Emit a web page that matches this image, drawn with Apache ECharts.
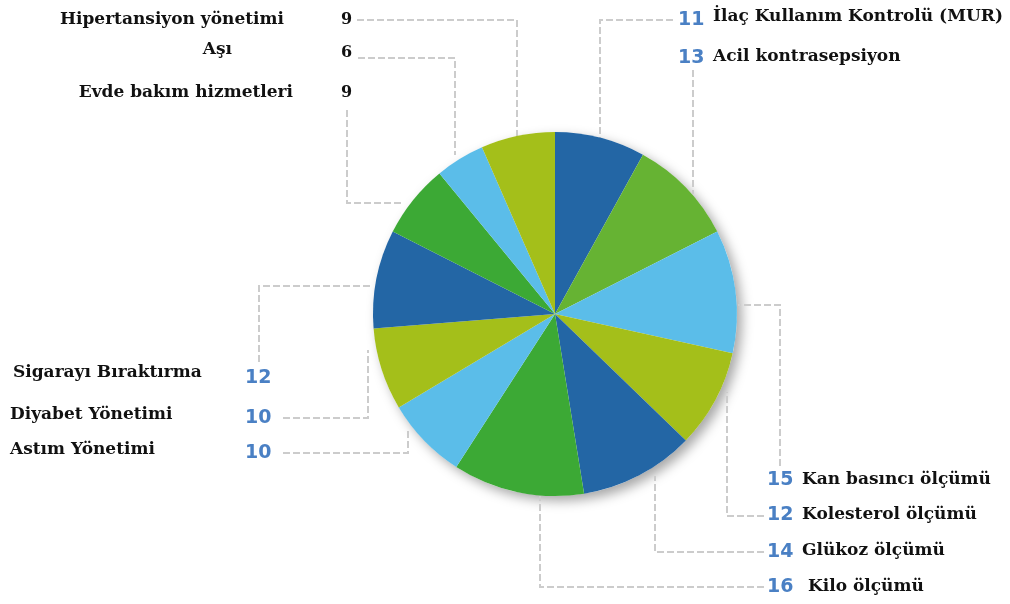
<!DOCTYPE html>
<html><head><meta charset="utf-8">
<script src="https://cdn.jsdelivr.net/npm/echarts@6/dist/echarts.min.js"></script>
<style>html,body{margin:0;padding:0;background:#fff}#c{width:1010px;height:604px}</style>
</head><body><div id="c"></div>
<script>
const categories = ["İlaç Kullanım Kontrolü (MUR)", "Acil kontrasepsiyon", "Kan basıncı ölçümü", "Kolesterol ölçümü", "Glükoz ölçümü", "Kilo ölçümü", "Astım Yönetimi", "Diyabet Yönetimi", "Sigarayı Bıraktırma", "Evde bakım hizmetleri", "Aşı", "Hipertansiyon yönetimi"];
const values = [11, 13, 15, 12, 14, 16, 10, 10, 12, 9, 6, 9];
const colors = ["#2366a5", "#66b333", "#5bbde9", "#a4bf1a", "#2366a5", "#3ca935", "#5bbde9", "#a4bf1a", "#2366a5", "#3ca935", "#5bbde9", "#a4bf1a"];

// label layout (positions only)
const nameLayout = [
  {x:713,y:17,align:'left'},{x:713,y:57,align:'left'},{x:802,y:480,align:'left'},{x:802,y:515,align:'left'},
  {x:802,y:551,align:'left'},{x:808,y:587,align:'left'},{x:10,y:450,align:'left'},{x:10,y:415,align:'left'},
  {x:13,y:373,align:'left'},{x:293,y:93,align:'right'},{x:232,y:50,align:'right'},{x:284,y:20,align:'right'}
];
const valueLayout = [
  {x:678,y:20,pts:[[673,20],[600,20],[600,140]]},
  {x:678,y:58,pts:[[693,70],[693,70],[693,194]]},
  {x:767,y:480,pts:[[780,466],[780,305],[738,305]]},
  {x:767,y:515,pts:[[764,516],[727,516],[727,392]]},
  {x:767,y:552,pts:[[764,552],[655,552],[655,476]]},
  {x:767,y:587,pts:[[764,587],[540,587],[540,496]]},
  {x:245,y:453,pts:[[283,453],[408,453],[408,430]]},
  {x:245,y:418,pts:[[283,418],[368,418],[368,350]]},
  {x:245,y:378,pts:[[259,362],[259,286],[372,286]]},
  {x:341,y:93,pts:[[347,110],[347,203],[402,203]]},
  {x:341,y:53,pts:[[358,58],[455,58],[455,155]]},
  {x:341,y:20,pts:[[357,20],[517,20],[517,140]]}
];

const CENTER = [555, 314], R = 182;
const data = categories.map((c, i) => ({name: c, value: values[i], itemStyle: {color: colors[i]}}));

const chart = echarts.init(document.getElementById('c'), null, {renderer: 'canvas'});
chart.setOption({
  animation: false,
  backgroundColor: '#ffffff',
  series: [
    { // shadow disc
      type: 'pie', center: CENTER, radius: R, silent: true, z: 1,
      data: [{value: 1, itemStyle: {color: '#ffffff', shadowBlur: 12, shadowOffsetX: 5, shadowOffsetY: 5, shadowColor: 'rgba(0,0,0,0.35)'}}],
      label: {show: false}, labelLine: {show: false}
    },
    { // value labels with leader lines
      type: 'pie', center: CENTER, radius: R, startAngle: 90, clockwise: true, z: 2, silent: true,
      avoidLabelOverlap: false,
      data: data.map(d => ({name: d.name, value: d.value, itemStyle: {color: 'rgba(0,0,0,0)'}})),
      label: {
        show: true, position: 'outside',
        formatter: p => (p.dataIndex >= 9 ? '{k|' : '{b|') + p.value + '}',
        rich: {
          b: {fontFamily: 'DejaVu Sans', fontWeight: 'bold', fontSize: 19, color: '#4a80c4'},
          k: {fontFamily: 'DejaVu Serif', fontWeight: 'bold', fontSize: 16, color: '#111111'}
        }
      },
      labelLine: {show: true, length: 5, length2: 5, lineStyle: {color: '#cccccc', width: 2, type: [7, 3]}},
      labelLayout: p => {
        const L = valueLayout[p.dataIndex];
        return {x: L.x, y: L.y, align: 'left', verticalAlign: 'middle', labelLinePoints: L.pts};
      }
    },
    { // main pie with names
      type: 'pie', center: CENTER, radius: R, startAngle: 90, clockwise: true, z: 3,
      avoidLabelOverlap: false,
      data: data,
      label: {show: true, position: 'outside', formatter: '{b}', fontFamily: 'DejaVu Serif', fontWeight: 'bold', fontSize: 17, color: '#111111'},
      labelLine: {show: false},
      labelLayout: p => {
        const L = nameLayout[p.dataIndex];
        return {x: L.x, y: L.y, align: L.align, verticalAlign: 'middle'};
      }
    }
  ]
});
</script></body></html>
